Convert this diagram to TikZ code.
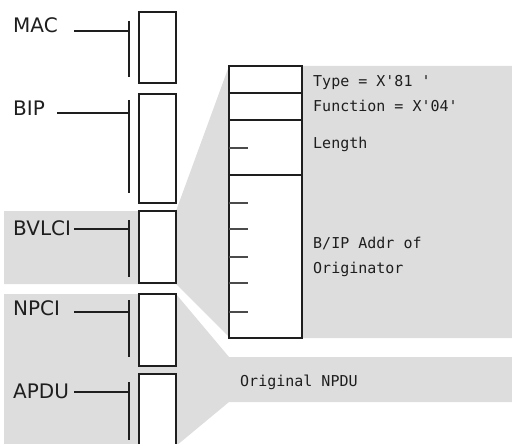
\documentclass[tikz,border=0pt]{standalone}
\usepackage{fontspec}
\setmainfont{DejaVu Sans}
\newfontfamily\monof{DejaVu Sans Mono}
\definecolor{bandgray}{RGB}{221,221,221}
\definecolor{ink}{RGB}{30,30,30}
\begin{document}
\begin{tikzpicture}[x=1pt,y=-1pt,
  layerbox/.style={draw=ink,line width=1.4pt,fill=white},
  bracket/.style={draw=ink,line width=1.3pt},
  tick/.style={draw=ink!80,line width=1.3pt},
  lbl/.style={anchor=base west,inner sep=0pt,font=\fontsize{20}{22}\selectfont,text=ink},
  rtxt/.style={anchor=base west,inner sep=0pt,font=\monof\fontsize{15}{17}\selectfont,text=ink}]
\useasboundingbox (0,0) rectangle (512,444);
% gray bands
\fill[bandgray] (4,211) -- (176,211) -- (229,66) -- (512,66) -- (512,338) -- (230,338) -- (176,284) -- (4,284) -- cycle;
\fill[bandgray] (4,294) -- (176,294) -- (229,357) -- (512,357) -- (512,402) -- (229,402) -- (176,446) -- (4,446) -- cycle;
% layer boxes
\draw[layerbox] (139,12) rectangle (176,83);
\draw[layerbox] (139,94) rectangle (176,203);
\draw[layerbox] (139,211) rectangle (176,283);
\draw[layerbox] (139,294) rectangle (176,366);
\draw[layerbox] (139,374) rectangle (176,450);
% labels
\node[lbl] (mac) at (13,33) {MAC};
\node[lbl] (bip) at (13,115) {BIP};
\node[lbl] (bvlci) at (13,235) {BVLCI};
\node[lbl] (npci) at (13,315) {NPCI};
\node[lbl] (apdu) at (13,398) {APDU};
% brackets
\coordinate (m0) at (74,31);  \coordinate (m1) at (129,31);
\coordinate (b0) at (57,113); \coordinate (b1) at (129,113);
\coordinate (v0) at (74,229); \coordinate (v1) at (129,229);
\coordinate (n0) at (74,312); \coordinate (n1) at (129,312);
\coordinate (a0) at (74,392); \coordinate (a1) at (129,392);
\draw[bracket] (m0) -- (m1); \draw[bracket] (129,21) -- (129,77);
\draw[bracket] (b0) -- (b1); \draw[bracket] (129,100) -- (129,193);
\draw[bracket] (v0) -- (v1); \draw[bracket] (129,220) -- (129,277);
\draw[bracket] (n0) -- (n1); \draw[bracket] (129,300) -- (129,357);
\draw[bracket] (a0) -- (a1); \draw[bracket] (129,382) -- (129,440);
% detail box
\draw[layerbox] (229,66) rectangle (302,338);
\foreach \yy in {93,120,175} \draw[layerbox] (229,\yy) -- (302,\yy);
\foreach \yy in {148,203,229,257,283,312} \draw[tick] (229,\yy) -- (248,\yy);
% texts
\node[rtxt] (type) at (313,87) {Type = X'81 '};
\node[rtxt] (func) at (313,112) {Function = X'04'};
\node[rtxt] (len) at (313,148) {Length};
\node[rtxt] (addr1) at (313,248) {B/IP Addr of};
\node[rtxt] (addr2) at (313,273) {Originator};
\node[rtxt] (npdu) at (240,386) {Original NPDU};
\end{tikzpicture}
\end{document}
